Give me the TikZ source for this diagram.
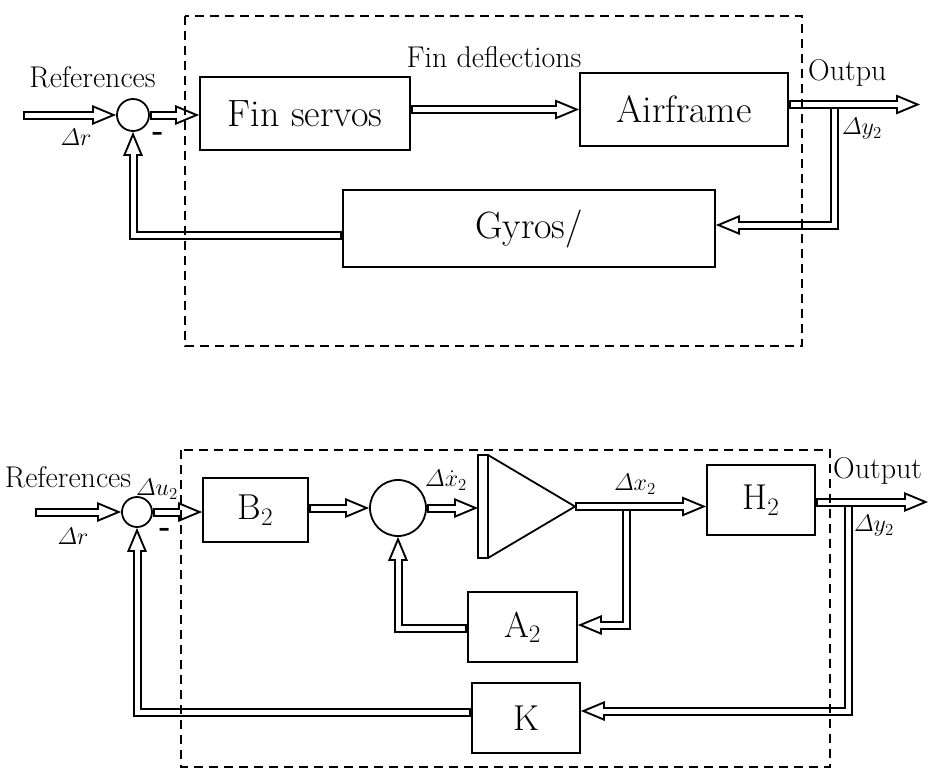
\documentclass[tikz,border=0pt]{standalone}
\usepackage{fix-cm}
\usepackage{amsmath}
\usepackage{fontspec}
\usetikzlibrary{arrows.meta,calc}
\newcommand\conn[1]{\draw[arrB] #1; \draw[arrW] #1;}
\begin{document}
\begin{tikzpicture}[x=1pt,y=-1pt,
  blk/.style={draw, line width=1.8pt, inner sep=0pt, fill=white},
  sumc/.style={draw, circle, line width=1.8pt, inner sep=0pt, fill=white},
  arrB/.style={line width=9pt, line join=miter, -{Triangle[length=24pt,width=20pt,line width=0pt]}},
  arrW/.style={white, line width=5pt, line join=miter, shorten >=5.2pt, shorten <=2pt, -{Triangle[length=16.8pt,width=14pt,line width=0pt]}},
  dbox/.style={line width=2.2pt, dash pattern=on 9pt off 6pt},
  lbl/.style={inner sep=0pt, font=\fontsize{30}{34}\selectfont},
  mlbl/.style={inner sep=0pt, font=\fontsize{24}{28}\selectfont},
  bigt/.style={font=\fontsize{38}{42}\selectfont},
  midt/.style={font=\fontsize{36}{40}\selectfont},
  ]
\useasboundingbox (0,0) rectangle (931,769);

% ---------- top diagram ----------
\node[sumc, minimum size=32pt] (s1) at (133,115) {};
\node[blk, bigt, minimum width=210pt, minimum height=73pt] (fin) at (305,113.5) {Fin servos};
\node[blk, bigt, minimum width=208pt, minimum height=73pt] (air) at (684,109.5) {Airframe};
\node[blk, bigt, minimum width=372pt, minimum height=77pt] (gyr) at (529,228.5) {Gyros/};

\coordinate (in1) at (23,115);
\coordinate (out1) at (920,104.5);
\coordinate (t1) at (834,107);
\coordinate (c1) at (834,225);
\coordinate (c2) at (133,235);

\conn{(in1) -- (s1.west)}
\conn{(s1.east) -- (s1.east -| fin.west)}
\conn{(fin.east |- air.west) -- (air.west)}
\conn{(air.east |- out1) -- (out1)}
\conn{(t1) -- (c1) -- (c1 -| gyr.east)}
\conn{(c2 -| gyr.west) -- (c2) -- (s1.south)}

\node[lbl, anchor=base] (ref1) at (92.5,87) {References};
\node[mlbl] (dr1) at (76,137) {$\varDelta r$};
\node[lbl] (m1) at (158,136) {\textbf{-}};
\node[lbl, anchor=base] (fd) at (494,67) {Fin deflections};
\node[lbl, anchor=base west] (o1) at (808,80) {Outpu};
\node[mlbl] (dy1) at (862,129) {$\varDelta y_2$};

\draw[dbox] (185,16) rectangle (802,346);

% ---------- bottom diagram ----------
\node[sumc, minimum size=30pt] (s2) at (137,512) {};
\node[blk, midt, minimum width=105pt, minimum height=64pt] (b2) at (255.5,510) {B$_2$};
\node[sumc, minimum size=56pt] (s3) at (398,508) {};
\draw[line width=1.8pt, fill=white] (478,455) rectangle (488,558);
\draw[line width=1.8pt, line join=miter] (488,455) -- (575,506.5) -- (488,558);
\coordinate (ii) at (478,508);
\coordinate (io) at (575,506.5);
\node[blk, midt, minimum width=108pt, minimum height=70pt] (h2) at (761,500) {H$_2$};
\node[blk, midt, minimum width=109pt, minimum height=70pt] (a2) at (522.5,627) {A$_2$};
\node[blk, midt, minimum width=108pt, minimum height=70pt] (k) at (526,718) {K};

\coordinate (in2) at (35,512);
\coordinate (out2) at (928,502);
\coordinate (t2) at (848,504.5);
\coordinate (c3) at (848,711);
\coordinate (c4) at (137,712);
\coordinate (t3) at (626,509);
\coordinate (c5) at (626,625);
\coordinate (c6) at (398,628);

\conn{(in2) -- (s2.west)}
\conn{(s2.east) -- (s2.east -| b2.west)}
\conn{(b2.east |- s3.west) -- (s3.west)}
\conn{(s3.east |- ii) -- (ii)}
\conn{(io) -- (io -| h2.west)}
\conn{(h2.east |- out2) -- (out2)}
\conn{(t3) -- (c5) -- (c5 -| a2.east)}
\conn{(c6 -| a2.west) -- (c6) -- (s3.south)}
\conn{(t2) -- (c3) -- (c3 -| k.east)}
\conn{(c4 -| k.west) -- (c4) -- (s2.south)}

\node[lbl, anchor=base] (ref2) at (68,487) {References};
\node[mlbl] (du2) at (157,489) {$\varDelta u_2$};
\node[mlbl] (dr2) at (73,536) {$\varDelta r$};
\node[lbl] (m2) at (165,532) {\textbf{-}};
\node[mlbl] (dxd) at (446,480) {$\varDelta\dot{x}_2$};
\node[mlbl] (dx) at (635,484) {$\varDelta x_2$};
\node[lbl, anchor=base west] (o2) at (833,478) {Output};
\node[mlbl] (dy2) at (874,526) {$\varDelta y_2$};

\draw[dbox] (181,450) rectangle (830,767);
\end{tikzpicture}
\end{document}
